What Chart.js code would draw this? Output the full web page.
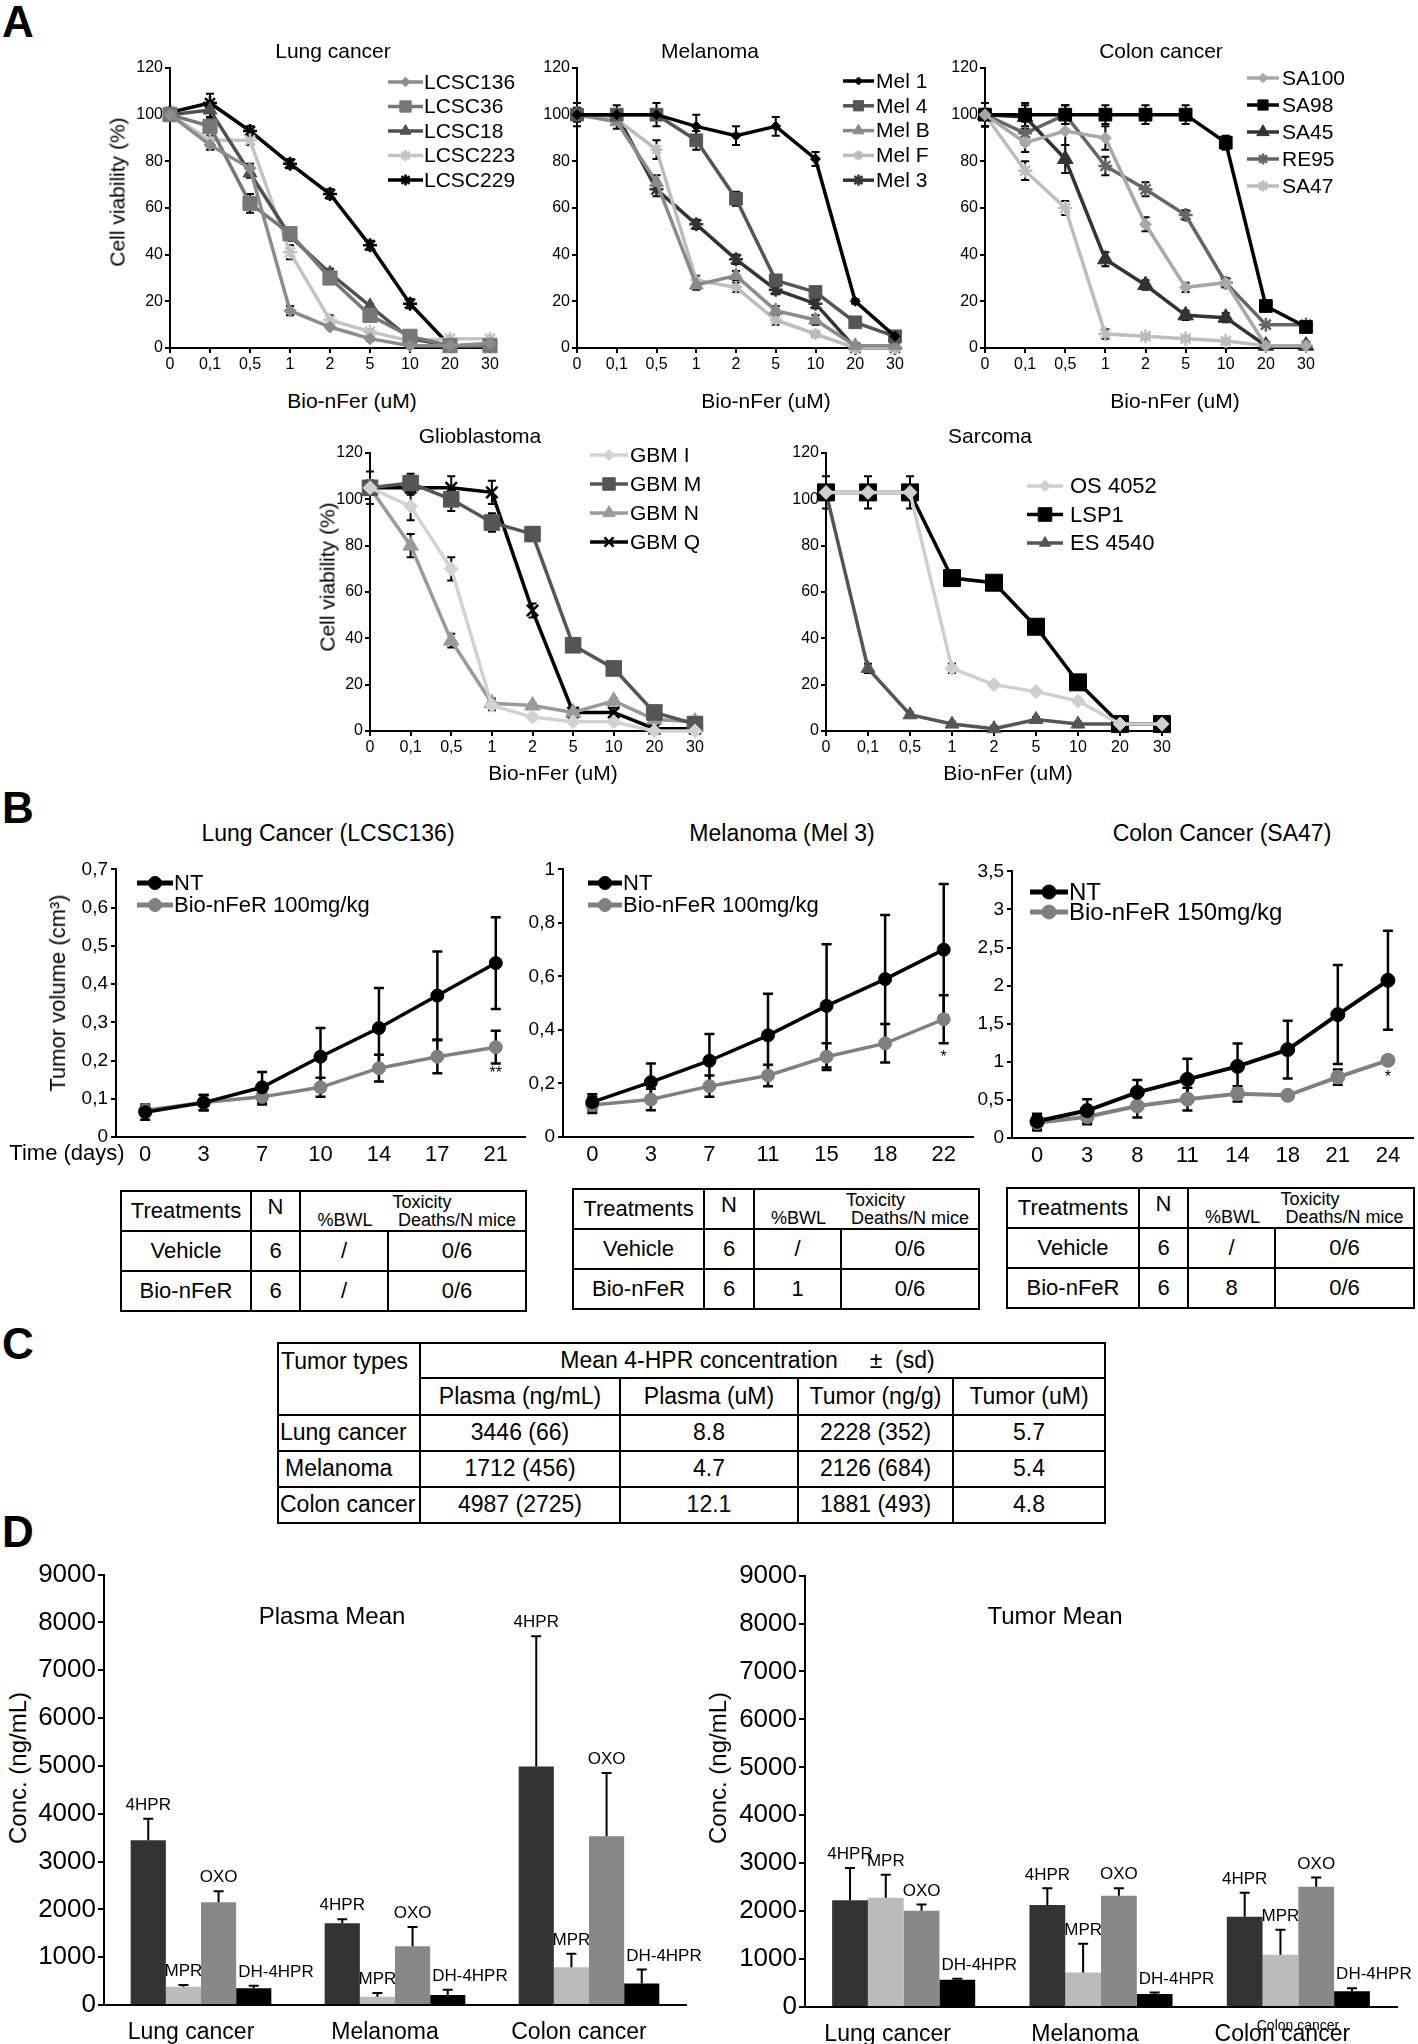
<!DOCTYPE html>
<html>
<head>
<meta charset="utf-8">
<title>Bio-nFeR figure</title>
<script src="https://cdn.jsdelivr.net/npm/chart.js@4.4.1/dist/chart.umd.min.js"></script>
<style>
  body { margin: 0; background: #fff; }
  #page { position: relative; width: 1418px; height: 2044px; overflow: hidden; background: #fff;
          font-family: "Liberation Sans", Arial, sans-serif; color: #000; }
  #page canvas { position: absolute; }
  .lbl { position: absolute; white-space: pre; transform: translate(-50%, -50%); line-height: 1; }
  .vlbl { position: absolute; white-space: pre; transform: translate(-50%, -50%) rotate(-90deg); line-height: 1; }
  table { position: absolute; border-collapse: collapse; table-layout: fixed; }
  td { border: 2px solid #000; padding: 0; text-align: center; white-space: pre; overflow: hidden; line-height: 1.1; }
</style>
</head>
<body>
<div id="page"></div>
<script>
// ---------- A: cell viability (%) vs Bio-nFer dose ----------
const doses = ["0", "0,1", "0,5", "1", "2", "5", "10", "20", "30"];
const viabilityTicks = ["0", "20", "40", "60", "80", "100", "120"];

const lungLCSC136 = [100, 87, 77, 16, 9, 4, 1, 1, 2];
const lungLCSC36  = [100, 95, 62, 49, 30, 14, 5, 1, 1];
const lungLCSC18  = [100, 102, 75, 48, 32, 18, 4, 1, 1];
const lungLCSC223 = [100, 89, 89, 41, 12, 7, 3, 4, 4];
const lungLCSC229 = [101, 105, 93, 79, 66, 44, 19, 1, 1];
const lungErrLCSC136 = [2, 2, 2, 2, 1, 1, 1, 1, 1];
const lungErrLCSC36  = [2, 3, 4, 2, 2, 2, 1, 1, 1];
const lungErrLCSC18  = [2, 3, 2, 2, 2, 1, 1, 1, 1];
const lungErrLCSC223 = [2, 2, 2, 3, 2, 1, 1, 1, 1];
const lungErrLCSC229 = [2, 4, 2, 2, 2, 2, 2, 1, 1];

const melMel1 = [100, 100, 100, 95, 91, 95, 81, 20, 5];
const melMel4 = [100, 100, 100, 89, 64, 29, 24, 11, 5];
const melMelB = [100, 97, 71, 27, 31, 16, 12, 1, 1];
const melMelF = [100, 98, 85, 29, 26, 12, 6, 0, 0];
const melMel3 = [100, 100, 68, 53, 38, 25, 19, 0, 0];
const melErrMel1 = [5, 4, 5, 5, 4, 4, 3, 1, 1];
const melErrMel4 = [2, 2, 2, 4, 3, 2, 2, 1, 1];
const melErrMelB = [3, 3, 3, 2, 2, 2, 2, 1, 1];
const melErrMelF = [2, 2, 4, 2, 2, 2, 1, 1, 1];
const melErrMel3 = [2, 2, 3, 2, 2, 2, 2, 1, 1];

const colSA100 = [100, 88, 93, 90, 53, 26, 28, 1, 1];
const colSA98  = [100, 100, 100, 100, 100, 100, 88, 18, 9];
const colSA45  = [100, 99, 81, 38, 27, 14, 13, 1, 1];
const colRE95  = [100, 92, 100, 78, 68, 57, 28, 10, 10];
const colSA47  = [100, 76, 60, 6, 5, 4, 3, 1, 1];
const colErrSA100 = [5, 4, 6, 5, 3, 2, 2, 1, 1];
const colErrSA98  = [5, 5, 4, 4, 4, 4, 3, 2, 2];
const colErrSA45  = [5, 5, 6, 3, 2, 2, 2, 1, 1];
const colErrRE95  = [5, 5, 4, 4, 3, 2, 2, 1, 1];
const colErrSA47  = [5, 4, 3, 2, 1, 1, 1, 1, 1];

const gbmI = [105, 97, 70, 11, 6, 4, 4, 0, 0];
const gbmM = [105, 107, 100, 90, 85, 37, 27, 8, 3];
const gbmN = [105, 80, 39, 12, 11, 8, 13, 5, 4];
const gbmQ = [105, 105, 105, 103, 52, 8, 8, 1, 1];
const gbmErrI = [3, 6, 5, 2, 1, 1, 1, 1, 1];
const gbmErrM = [7, 4, 5, 4, 3, 2, 2, 1, 1];
const gbmErrN = [3, 5, 3, 2, 1, 1, 1, 1, 1];
const gbmErrQ = [3, 3, 5, 5, 3, 2, 2, 1, 1];

const sarOS4052 = [103, 103, 103, 27, 20, 17, 13, 3, 3];
const sarLSP1   = [103, 103, 103, 66, 64, 45, 21, 3, 3];
const sarES4540 = [103, 27, 7, 3, 1, 5, 3, 3, 3];
const sarErrOS4052 = [2, 2, 2, 2, 1, 1, 1, 1, 1];
const sarErrLSP1   = [7, 7, 7, 2, 2, 2, 2, 1, 1];
const sarErrES4540 = [2, 2, 1, 1, 1, 1, 1, 1, 1];

// ---------- B: tumor volume (cm3) vs time ----------
const lungDays = ["0", "3", "7", "10", "14", "17", "21"];
const lungNT   = [0.065, 0.09, 0.13, 0.21, 0.285, 0.37, 0.455];
const lungNTErr = [0.02, 0.02, 0.04, 0.075, 0.105, 0.115, 0.12];
const lungBio  = [0.07, 0.09, 0.105, 0.13, 0.18, 0.21, 0.235];
const lungBioErr = [0.01, 0.02, 0.02, 0.025, 0.035, 0.043, 0.043];
const lungVolTicks = ["0", "0,1", "0,2", "0,3", "0,4", "0,5", "0,6", "0,7"];

const melDays = ["0", "3", "7", "11", "15", "18", "22"];
const melNT   = [0.13, 0.205, 0.285, 0.38, 0.49, 0.59, 0.70];
const melNTErr = [0.03, 0.07, 0.10, 0.155, 0.23, 0.24, 0.245];
const melBio  = [0.12, 0.14, 0.19, 0.23, 0.30, 0.35, 0.44];
const melBioErr = [0.03, 0.04, 0.04, 0.04, 0.05, 0.072, 0.09];
const melVolTicks = ["0", "0,2", "0,4", "0,6", "0,8", "1"];

const colDays = ["0", "3", "8", "11", "14", "18", "21", "24"];
const colNT   = [0.22, 0.36, 0.6, 0.77, 0.94, 1.16, 1.62, 2.07];
const colNTErr = [0.1, 0.15, 0.16, 0.27, 0.3, 0.38, 0.65, 0.65];
const colBio  = [0.2, 0.28, 0.42, 0.51, 0.58, 0.56, 0.8, 1.02];
const colBioErr = [0.1, 0.1, 0.15, 0.15, 0.1, 0, 0.1, 0.02];
const colVolTicks = ["0", "0,5", "1", "1,5", "2", "2,5", "3", "3,5"];

const toxHeader = ["Treatments", "N", "Toxicity", "%BWL", "Deaths/N mice"];
const lungToxRows = [["Vehicle", "6", "/", "0/6"], ["Bio-nFeR", "6", "/", "0/6"]];
const melToxRows  = [["Vehicle", "6", "/", "0/6"], ["Bio-nFeR", "6", "1", "0/6"]];
const colToxRows  = [["Vehicle", "6", "/", "0/6"], ["Bio-nFeR", "6", "8", "0/6"]];

// ---------- C: mean 4-HPR concentration ----------
const cHeader = ["Tumor types", "Mean 4-HPR concentration     \u00b1  (sd)"];
const cColumns = ["Plasma (ng/mL)", "Plasma (uM)", "Tumor (ng/g)", "Tumor (uM)"];
const cTumors = ["Lung cancer", "Melanoma", "Colon cancer"];
const cPlasmaNg = ["3446 (66)", "1712 (456)", "4987 (2725)"];
const cPlasmaUM = ["8.8", "4.7", "12.1"];
const cTumorNg = ["2228 (352)", "2126 (684)", "1881 (493)"];
const cTumorUM = ["5.7", "5.4", "4.8"];

// ---------- D: concentrations (ng/mL) ----------
const tumorTypes = ["Lung cancer", "Melanoma", "Colon cancer"];
const concTicks = ["0", "1000", "2000", "3000", "4000", "5000", "6000", "7000", "8000", "9000"];
const plasma4HPR = [3446, 1712, 4987];
const plasmaMPR  = [380, 170, 790];
const plasmaOXO  = [2150, 1230, 3530];
const plasmaDH   = [350, 210, 450];
const plasmaErr4HPR = [450, 80, 2725];
const plasmaErrMPR  = [40, 80, 280];
const plasmaErrOXO  = [230, 400, 1320];
const plasmaErrDH   = [50, 110, 290];
const tumor4HPR = [2228, 2126, 1881];
const tumorMPR  = [2280, 720, 1090];
const tumorOXO  = [2010, 2320, 2510];
const tumorDH   = [570, 270, 330];
const tumorErr4HPR = [670, 350, 500];
const tumorErrMPR  = [480, 600, 520];
const tumorErrOXO  = [130, 160, 190];
const tumorErrDH   = [20, 30, 60];

// ================= drawing =================
const FONT = '"Liberation Sans", Arial, sans-serif';
Chart.defaults.font.family = FONT;
Chart.defaults.color = '#000';
const page = document.getElementById('page');

function label(str, x, y, size, extra) {
  const d = document.createElement('div');
  d.className = (extra && extra.vertical) ? 'vlbl' : 'lbl';
  d.textContent = str;
  d.style.left = x + 'px'; d.style.top = y + 'px'; d.style.fontSize = size + 'px';
  if (extra && extra.bold) d.style.fontWeight = 'bold';
  page.appendChild(d);
}

function marker(ctx, style, r, x, y) {
  if (Chart.helpers && Chart.helpers.drawPoint) {
    Chart.helpers.drawPoint(ctx, { pointStyle: style, radius: r, rotation: 0, borderWidth: ctx.lineWidth }, x, y);
  } else {
    ctx.beginPath(); ctx.arc(x, y, r, 0, Math.PI * 2); ctx.fill();
  }
}

const errorBars = {
  id: 'errorBars',
  draw(chart, o) {
    const ys = chart.scales.y, ctx = chart.ctx;
    chart.data.datasets.forEach((ds, i) => {
      if (!ds.errors) return;
      chart.getDatasetMeta(i).data.forEach((el, j) => {
        const e = ds.errors[j];
        if (!e) return;
        const top = ys.getPixelForValue(ds.data[j] + e);
        const bot = o.upOnly ? el.y : ys.getPixelForValue(ds.data[j] - e);
        ctx.save();
        ctx.strokeStyle = '#000'; ctx.lineWidth = o.width || 2;
        ctx.beginPath();
        ctx.moveTo(el.x, top); ctx.lineTo(el.x, bot);
        ctx.moveTo(el.x - o.cap, top); ctx.lineTo(el.x + o.cap, top);
        if (!o.upOnly) { ctx.moveTo(el.x - o.cap, bot); ctx.lineTo(el.x + o.cap, bot); }
        ctx.stroke();
        ctx.restore();
      });
    });
  },
  beforeDatasetsDraw(chart, args, o) { if (o.cap && !o.upOnly) this.draw(chart, o); },
  afterDatasetsDraw(chart, args, o) { if (o.cap && o.upOnly) this.draw(chart, o); }
};

const lineLegend = {
  id: 'lineLegend',
  afterDraw(chart, args, o) {
    if (!o.x) return;
    const ctx = chart.ctx;
    const ox = parseFloat(chart.canvas.style.left), oy = parseFloat(chart.canvas.style.top);
    chart.data.datasets.forEach((ds, i) => {
      const y = o.y + i * o.rowH - oy, x0 = o.x - ox, x1 = x0 + o.lineLen;
      ctx.save();
      ctx.strokeStyle = ds.borderColor; ctx.lineWidth = o.lineWidth || ds.borderWidth;
      ctx.beginPath(); ctx.moveTo(x0, y); ctx.lineTo(x1, y); ctx.stroke();
      ctx.fillStyle = ds.pointBackgroundColor; ctx.strokeStyle = ds.pointBorderColor;
      ctx.lineWidth = ds.pointBorderWidth;
      marker(ctx, ds.pointStyle, ds.pointRadius * (o.markerScale || 0.8), (x0 + x1) / 2, y);
      ctx.fillStyle = '#000'; ctx.font = o.size + 'px ' + FONT;
      ctx.textAlign = 'left'; ctx.textBaseline = 'middle';
      ctx.fillText(ds.label, x1 + o.gap, y + 1);
      ctx.restore();
    });
  }
};

const sigMark = {
  id: 'sigMark',
  afterDatasetsDraw(chart, args, o) {
    if (!o.text) return;
    const ds = chart.data.datasets[o.dataset];
    const el = chart.getDatasetMeta(o.dataset).data[o.index];
    const y = chart.scales.y.getPixelForValue(ds.data[o.index] - ds.errors[o.index]) + o.dy;
    const ctx = chart.ctx;
    ctx.save(); ctx.fillStyle = '#000'; ctx.font = '16px ' + FONT;
    ctx.textAlign = 'center'; ctx.textBaseline = 'top';
    ctx.fillText(o.text, el.x, y);
    ctx.restore();
  }
};

const barLabels = {
  id: 'barLabels',
  afterDatasetsDraw(chart, args, o) {
    if (!o.size) return;
    const ctx = chart.ctx, ys = chart.scales.y;
    ctx.save(); ctx.fillStyle = '#000'; ctx.font = o.size + 'px ' + FONT; ctx.textBaseline = 'bottom';
    chart.data.datasets.forEach((ds, i) => {
      chart.getDatasetMeta(i).data.forEach((el, j) => {
        const y = ys.getPixelForValue(ds.data[j] + ds.errors[j]) - 5;
        if (ds.labelLeft) { ctx.textAlign = 'left'; ctx.fillText(ds.label, el.x - el.width / 2 + 2, y); }
        else { ctx.textAlign = 'center'; ctx.fillText(ds.label, el.x, y); }
      });
    });
    ctx.restore();
  }
};

Chart.register(errorBars, lineLegend, sigMark, barLabels);

function place(rect, pad, type, data, scales, plugins) {
  const c = document.createElement('canvas');
  const w = rect.r - rect.l + pad.l + pad.r, h = rect.b - rect.t + pad.t + pad.b;
  c.width = w; c.height = h;
  Object.assign(c.style, { left: (rect.l - pad.l) + 'px', top: (rect.t - pad.t) + 'px', width: w + 'px', height: h + 'px' });
  page.appendChild(c);
  scales.x.afterFit = s => { s.height = pad.b; };
  scales.y.afterFit = s => { s.width = pad.l; };
  return new Chart(c, {
    type: type,
    data: data,
    options: {
      responsive: false, animation: false, devicePixelRatio: 1,
      layout: { padding: { top: pad.t, right: pad.r, left: 0, bottom: 0 } },
      scales: scales,
      plugins: Object.assign({ legend: { display: false }, tooltip: { enabled: false } }, plugins)
    }
  });
}

function series(name, values, errors, color, style, radius, width) {
  const stroke = (style === 'star' || style === 'crossRot');
  return {
    label: name, data: values, errors: errors,
    borderColor: color, backgroundColor: color,
    pointBackgroundColor: color, pointBorderColor: color,
    pointStyle: style, pointRadius: radius, pointBorderWidth: stroke ? 2.5 : 1,
    borderWidth: width || 3.5, tension: 0, fill: false, clip: false
  };
}

const axisGrid = (len) => ({ drawOnChartArea: false, drawTicks: len > 0, tickLength: len, color: '#000', lineWidth: 2 });
const axisBorder = { display: true, color: '#000', width: 2 };

// ---- panel A ----
function doseChart(rect, sets, legend) {
  return place(rect, { l: 42, t: 14, r: 50, b: 34 }, 'line', { labels: doses, datasets: sets }, {
    x: { type: 'category', offset: false, grid: axisGrid(5), border: axisBorder,
         ticks: { font: { size: 16 }, padding: 2, autoSkip: false, maxRotation: 0 } },
    y: { min: 0, max: 120, grid: axisGrid(5), border: axisBorder,
         ticks: { stepSize: 20, font: { size: 16 }, padding: 2, callback: (v, i) => viabilityTicks[i] } }
  }, { errorBars: { cap: 4, width: 2 }, lineLegend: legend });
}

doseChart({ l: 170, r: 490, t: 68, b: 348 }, [
  series('LCSC136', lungLCSC136, lungErrLCSC136, '#8c8c8c', 'rectRot', 6),
  series('LCSC36', lungLCSC36, lungErrLCSC36, '#777777', 'rect', 10),
  series('LCSC18', lungLCSC18, lungErrLCSC18, '#505050', 'triangle', 8),
  series('LCSC223', lungLCSC223, lungErrLCSC223, '#c4c4c4', 'star', 7),
  series('LCSC229', lungLCSC229, lungErrLCSC229, '#000000', 'star', 7)
], { x: 388, y: 82, rowH: 24.5, lineLen: 35, gap: 1, size: 21 });

doseChart({ l: 577, r: 895, t: 68, b: 348 }, [
  series('Mel 1', melMel1, melErrMel1, '#000000', 'rectRot', 5),
  series('Mel 4', melMel4, melErrMel4, '#555555', 'rect', 9),
  series('Mel B', melMelB, melErrMelB, '#8a8a8a', 'triangle', 8),
  series('Mel F', melMelF, melErrMelF, '#bdbdbd', 'star', 6),
  series('Mel 3', melMel3, melErrMel3, '#333333', 'star', 7)
], { x: 843, y: 81, rowH: 24.8, lineLen: 31, gap: 2, size: 21 });

doseChart({ l: 985, r: 1306, t: 68, b: 348 }, [
  series('SA100', colSA100, colErrSA100, '#a8a8a8', 'rectRot', 6),
  series('SA98', colSA98, colErrSA98, '#000000', 'rect', 9),
  series('SA45', colSA45, colErrSA45, '#333333', 'triangle', 9),
  series('RE95', colRE95, colErrRE95, '#666666', 'star', 7),
  series('SA47', colSA47, colErrSA47, '#bdbdbd', 'star', 7)
], { x: 1247, y: 78, rowH: 27, lineLen: 32, gap: 3, size: 21 });

doseChart({ l: 370, r: 695, t: 453, b: 731 }, [
  series('GBM I', gbmI, gbmErrI, '#d2d2d2', 'rectRot', 7),
  series('GBM M', gbmM, gbmErrM, '#555555', 'rect', 11),
  series('GBM N', gbmN, gbmErrN, '#9a9a9a', 'triangle', 9),
  series('GBM Q', gbmQ, gbmErrQ, '#000000', 'crossRot', 8)
], { x: 590, y: 455, rowH: 29, lineLen: 38, gap: 2, size: 21 });

doseChart({ l: 826, r: 1162, t: 453, b: 731 }, [
  series('OS 4052', sarOS4052, sarErrOS4052, '#cfcfcf', 'rectRot', 7),
  series('LSP1', sarLSP1, sarErrLSP1, '#000000', 'rect', 12),
  series('ES 4540', sarES4540, sarErrES4540, '#555555', 'triangle', 8)
], { x: 1027, y: 486, rowH: 28.5, lineLen: 36, gap: 7, size: 22 });

// ---- panel B ----
function volumeChart(rect, days, sets, max, step, ticks, legend, sig) {
  return place(rect, { l: 50, t: 14, r: 16, b: 34 }, 'line', { labels: days, datasets: sets }, {
    x: { type: 'category', offset: true, grid: axisGrid(0), border: axisBorder,
         ticks: { font: { size: 22 }, padding: 5, autoSkip: false, maxRotation: 0 } },
    y: { min: 0, max: max, grid: axisGrid(5), border: axisBorder,
         ticks: { stepSize: step, font: { size: 19 }, padding: 3, callback: (v, i) => ticks[i] } }
  }, { errorBars: { cap: 5, width: 2.5 }, lineLegend: legend, sigMark: sig });
}

volumeChart({ l: 116, r: 525, t: 869, b: 1137 }, lungDays, [
  series('NT', lungNT, lungNTErr, '#000000', 'circle', 6.5, 3.5),
  series('Bio-nFeR 100mg/kg', lungBio, lungBioErr, '#808080', 'circle', 6.5, 3.5)
], 0.7, 0.1, lungVolTicks, { x: 137, y: 883, rowH: 22, lineLen: 36, gap: 1, size: 22, lineWidth: 5, markerScale: 1 },
{ text: '**', dataset: 1, index: 6, dy: 2 });

volumeChart({ l: 563, r: 973, t: 869, b: 1137 }, melDays, [
  series('NT', melNT, melNTErr, '#000000', 'circle', 6.5, 3.5),
  series('Bio-nFeR 100mg/kg', melBio, melBioErr, '#808080', 'circle', 6.5, 3.5)
], 1, 0.2, melVolTicks, { x: 588, y: 883, rowH: 22, lineLen: 34, gap: 1, size: 22, lineWidth: 5, markerScale: 1 },
{ text: '*', dataset: 1, index: 6, dy: 6 });

volumeChart({ l: 1012, r: 1413, t: 871, b: 1138 }, colDays, [
  series('NT', colNT, colNTErr, '#000000', 'circle', 7, 4),
  series('Bio-nFeR 150mg/kg', colBio, colBioErr, '#808080', 'circle', 7, 4)
], 3.5, 0.5, colVolTicks, { x: 1030, y: 892, rowH: 20, lineLen: 38, gap: 1, size: 24, lineWidth: 5, markerScale: 1 },
{ text: '*', dataset: 1, index: 7, dy: 8 });

function toxTable(left, top, widths, rows) {
  const t = document.createElement('table');
  t.style.left = left + 'px'; t.style.top = top + 'px';
  t.style.width = widths.reduce((a, b) => a + b, 0) + 'px';
  let html = '<colgroup>' + widths.map(w => '<col style="width:' + w + 'px">').join('') + '</colgroup>';
  html += '<tr style="height:40px"><td style="font-size:22px">' + toxHeader[0] + '</td>' +
    '<td style="font-size:22px;vertical-align:top;padding-top:3px">' + toxHeader[1] + '</td>' +
    '<td colspan="2" style="font-size:18px;line-height:18px;vertical-align:top;padding-top:1px">' +
    '<div style="padding-left:18px">' + toxHeader[2] + '</div>' +
    '<div style="display:flex"><span style="width:' + widths[2] + 'px">' + toxHeader[3] + '</span>' +
    '<span style="flex:1">' + toxHeader[4] + '</span></div></td></tr>';
  rows.forEach(r => {
    html += '<tr style="height:40px">' + r.map(v => '<td style="font-size:22px">' + v + '</td>').join('') + '</tr>';
  });
  t.innerHTML = html;
  page.appendChild(t);
}
toxTable(120, 1190, [130, 49, 88, 138], lungToxRows);
toxTable(572, 1188, [131, 50, 87, 138], melToxRows);
toxTable(1006, 1187, [132, 49, 87, 139], colToxRows);

// ---- panel C ----
(function () {
  const t = document.createElement('table');
  const widths = [142, 200, 178, 155, 152];
  t.style.left = '277px'; t.style.top = '1342px';
  t.style.width = widths.reduce((a, b) => a + b, 0) + 'px';
  let html = '<colgroup>' + widths.map(w => '<col style="width:' + w + 'px">').join('') + '</colgroup>';
  html += '<tr style="height:35px"><td rowspan="2" style="font-size:23px;text-align:left;vertical-align:top;padding:5px 0 0 2px">' +
    cHeader[0] + '</td><td colspan="4" style="font-size:23px;padding-right:30px">' + cHeader[1] + '</td></tr>';
  html += '<tr style="height:37px">' + cColumns.map(v => '<td style="font-size:23px">' + v + '</td>').join('') + '</tr>';
  cTumors.forEach((name, i) => {
    html += '<tr style="height:36px"><td style="font-size:23px;text-align:left;padding-left:' + (i === 1 ? 6 : 1) + 'px">' + name + '</td>' +
      [cPlasmaNg[i], cPlasmaUM[i], cTumorNg[i], cTumorUM[i]].map(v => '<td style="font-size:23px">' + v + '</td>').join('') + '</tr>';
  });
  t.innerHTML = html;
  page.appendChild(t);
})();

// ---- panel D ----
function concChart(rect, v, e, shift) {
  const names = ['4HPR', 'MPR', 'OXO', 'DH-4HPR'];
  const colors = ['#333333', '#bbbbbb', '#888888', '#000000'];
  const sets = names.map((n, k) => ({
    label: n, data: v[k], errors: e[k], backgroundColor: colors[k], borderWidth: 0,
    categoryPercentage: 0.725, barPercentage: 1, labelLeft: k === 3
  }));
  return place(rect, { l: 70, t: 14, r: 20, b: 40 }, 'bar', { labels: tumorTypes, datasets: sets }, {
    x: { type: 'category', grid: { display: false }, border: axisBorder,
         ticks: { font: { size: 23 }, padding: 6, autoSkip: false, maxRotation: 0, labelOffset: shift } },
    y: { min: 0, max: 9000, grid: axisGrid(6), border: axisBorder,
         ticks: { stepSize: 1000, font: { size: 26 }, padding: 2, callback: (val, i) => concTicks[i] } }
  }, { errorBars: { cap: 5, width: 2, upOnly: true }, barLabels: { size: 17 } });
}
concChart({ l: 104, r: 686, t: 1571, b: 2005 },
  [plasma4HPR, plasmaMPR, plasmaOXO, plasmaDH], [plasmaErr4HPR, plasmaErrMPR, plasmaErrOXO, plasmaErrDH], -10);
concChart({ l: 805, r: 1397, t: 1572, b: 2007 },
  [tumor4HPR, tumorMPR, tumorOXO, tumorDH], [tumorErr4HPR, tumorErrMPR, tumorErrOXO, tumorErrDH], -16);

// ---- text ----
label('A', 18, 22, 44, { bold: true });
label('B', 18, 808, 44, { bold: true });
label('C', 18, 1344, 44, { bold: true });
label('D', 18, 1532, 44, { bold: true });

label('Lung cancer', 333, 50, 21);
label('Melanoma', 710, 50, 21);
label('Colon cancer', 1161, 50, 21);
label('Glioblastoma', 480, 435, 21);
label('Sarcoma', 990, 435, 21);
label('Bio-nFer (uM)', 352, 400, 21);
label('Bio-nFer (uM)', 766, 400, 21);
label('Bio-nFer (uM)', 1175, 400, 21);
label('Bio-nFer (uM)', 553, 772, 21);
label('Bio-nFer (uM)', 1008, 772, 21);
label('Cell viability (%)', 117, 192, 21, { vertical: true });
label('Cell viability (%)', 327, 577, 21, { vertical: true });

label('Lung Cancer (LCSC136)', 328, 833, 23);
label('Melanoma (Mel 3)', 782, 833, 23);
label('Colon Cancer (SA47)', 1222, 833, 23);
label('Tumor volume (cm\u00b3)', 58, 993, 22, { vertical: true });
label('Time (days)', 67, 1153, 22);

label('Plasma Mean', 332, 1616, 24);
label('Tumor Mean', 1055, 1616, 24);
label('Conc. (ng/mL)', 18, 1768, 24, { vertical: true });
label('Conc. (ng/mL)', 718, 1768, 24, { vertical: true });
label('Colon cancer', 1298, 2025, 14);
</script>
</body>
</html>
